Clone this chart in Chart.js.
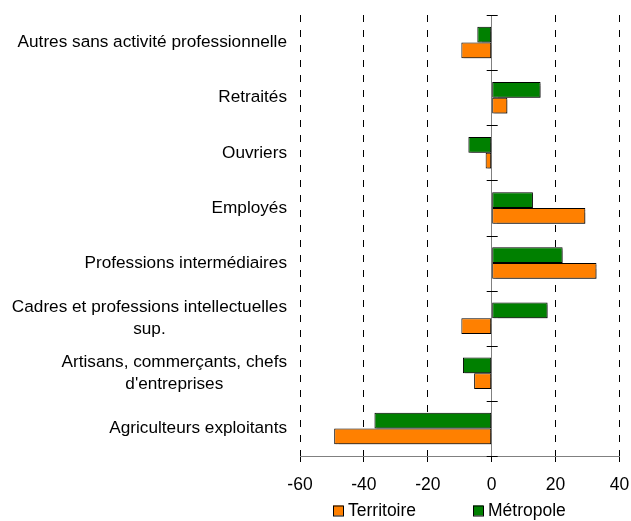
<!DOCTYPE html>
<html>
<head>
<meta charset="utf-8">
<script src="https://cdn.jsdelivr.net/npm/chart.js"></script>
<style>
  body { margin: 0; background: #fff; }
  #wrap { width: 631px; height: 521px; position: relative; }
</style>
</head>
<body>
<div id="wrap"><canvas id="csp"></canvas></div>
<script>
// categories, top to bottom
const categories = [
    'Autres sans activité professionnelle',
    'Retraités',
    'Ouvriers',
    'Employés',
    'Professions intermédiaires',
    ['Cadres et professions intellectuelles', 'sup.'],
    ['Artisans, commerçants, chefs', "d'entreprises"],
    'Agriculteurs exploitants'
];
const metropole = [-4.5, 15.3, -7.3, 12.9, 22.2, 17.5, -9.0, -36.7];
const territoire = [-9.5, 4.9, -1.9, 29.3, 32.8, -9.5, -5.5, -49.3];
const xMin = -60;
const xMax = 40;
const xStep = 20;

const FONT = '"Liberation Sans", Arial, sans-serif';
const ORANGE = '#ff8000';
const GREEN = '#008000';

// soft shadow behind the bars
const barShadow = {
    id: 'barShadow',
    beforeDatasetsDraw(chart) {
        const ctx = chart.ctx;
        ctx.save();
        ctx.shadowColor = 'rgba(0,0,0,0.35)';
        ctx.shadowOffsetX = 2;
        ctx.shadowOffsetY = 2;
        ctx.shadowBlur = 1;
    },
    afterDatasetsDraw(chart) {
        chart.ctx.restore();
    }
};

// category labels (wrapped lines centred on each other) + ticks on the zero line
const categoryAxis = {
    id: 'categoryAxis',
    afterDraw(chart) {
        const ctx = chart.ctx;
        const x = chart.scales.x;
        const y = chart.scales.y;
        const x0 = x.getPixelForValue(0);
        ctx.save();

        ctx.strokeStyle = '#000';
        ctx.lineWidth = 1;
        for (let i = 0; i <= categories.length; i++) {
            const py = Math.round(y.getPixelForValue(i - 0.5)) + 0.5;
            ctx.beginPath();
            ctx.moveTo(x0 - 5, py);
            ctx.lineTo(x0 + 6, py);
            ctx.stroke();
        }

        ctx.fillStyle = '#000';
        ctx.font = '17.2px ' + FONT;
        ctx.textAlign = 'center';
        ctx.textBaseline = 'middle';
        const right = chart.chartArea.left - 13;
        const lineH = 21.5;
        categories.forEach((lab, i) => {
            const lines = Array.isArray(lab) ? lab : [lab];
            const maxW = Math.max(...lines.map(l => ctx.measureText(l).width));
            let cx = right - maxW / 2;
            if (cx - maxW / 2 < 10) cx = 10 + maxW / 2;
            const cy = y.getPixelForValue(i);
            lines.forEach((l, j) => {
                ctx.fillText(l, cx, cy + (j - (lines.length - 1) / 2) * lineH);
            });
        });
        ctx.restore();
    }
};

// legend under the plot: Territoire then Métropole
const bottomLegend = {
    id: 'bottomLegend',
    afterDraw(chart) {
        const ctx = chart.ctx;
        const items = [
            { text: 'Territoire', color: ORANGE },
            { text: 'Métropole', color: GREEN }
        ];
        ctx.save();
        ctx.font = '17.5px ' + FONT;
        ctx.textBaseline = 'middle';
        ctx.textAlign = 'left';
        const cy = 510.5;
        let px = chart.chartArea.left + 33;
        items.forEach(it => {
            ctx.fillStyle = it.color;
            ctx.fillRect(px, cy - 5, 10, 10);
            ctx.strokeStyle = '#000';
            ctx.lineWidth = 1;
            ctx.strokeRect(px + 0.5, cy - 5 + 0.5, 10, 10);
            ctx.fillStyle = '#000';
            ctx.fillText(it.text, px + 15, cy + 1);
            px += 140;
        });
        ctx.restore();
    }
};

new Chart(document.getElementById('csp'), {
    type: 'bar',
    data: {
        labels: categories,
        datasets: [
            {
                label: 'Métropole',
                data: metropole,
                backgroundColor: GREEN,
                borderColor: '#000',
                borderWidth: 1,
                borderSkipped: false,
                barPercentage: 1,
                categoryPercentage: 0.57
            },
            {
                label: 'Territoire',
                data: territoire,
                backgroundColor: ORANGE,
                borderColor: '#000',
                borderWidth: 1,
                borderSkipped: false,
                barPercentage: 1,
                categoryPercentage: 0.57
            }
        ]
    },
    options: {
        indexAxis: 'y',
        responsive: true,
        maintainAspectRatio: false,
        animation: false,
        layout: { padding: { top: 15, right: 2, bottom: 12, left: 0 } },
        scales: {
            x: {
                min: xMin,
                max: xMax,
                ticks: {
                    stepSize: xStep,
                    color: '#000',
                    font: { family: FONT, size: 17.5 },
                    padding: 13
                },
                grid: {
                    color: c => (c.tick && c.tick.value === 0 ? '#808080' : '#000'),
                    lineWidth: 1,
                    tickColor: '#000',
                    tickLength: 6
                },
                border: {
                    display: true,
                    color: '#808080',
                    dash: c => (c.tick && c.tick.value === 0 ? [] : [7, 8])
                },
                afterFit(scale) { scale.paddingRight = 11.5; }
            },
            y: {
                ticks: { display: false },
                grid: { display: false },
                border: { display: false },
                afterFit(scale) { scale.width = 300; }
            }
        },
        plugins: {
            legend: { display: false },
            tooltip: { enabled: false }
        }
    },
    plugins: [barShadow, categoryAxis, bottomLegend]
});
</script>
</body>
</html>
